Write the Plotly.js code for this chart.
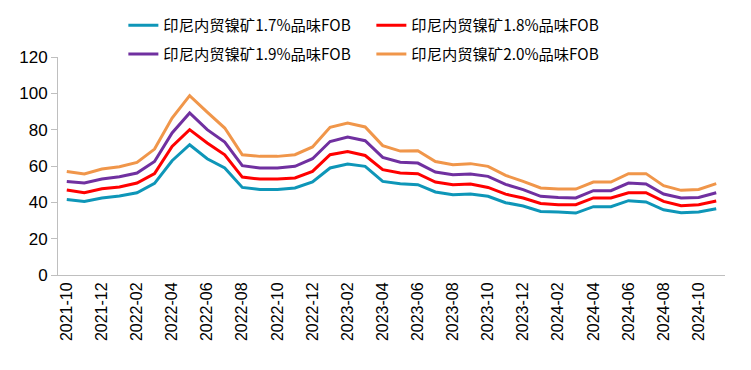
<!DOCTYPE html>
<html>
<head>
<meta charset="utf-8">
<script src="https://cdn.plot.ly/plotly-3.0.1.min.js"></script>
<style>html,body{margin:0;padding:0;background:#fff}#chart{width:751px;height:370px}</style>
</head>
<body>
<div id="chart"></div>
<script>
const months = ["2021-10","2021-11","2021-12","2022-01","2022-02","2022-03","2022-04","2022-05","2022-06","2022-07","2022-08","2022-09","2022-10","2022-11","2022-12","2023-01","2023-02","2023-03","2023-04","2023-05","2023-06","2023-07","2023-08","2023-09","2023-10","2023-11","2023-12","2024-01","2024-02","2024-03","2024-04","2024-05","2024-06","2024-07","2024-08","2024-09","2024-10","2024-11"];
const seriesNames = ["印尼内贸镍矿1.7%品味FOB","印尼内贸镍矿1.8%品味FOB","印尼内贸镍矿1.9%品味FOB","印尼内贸镍矿2.0%品味FOB"];
const grade17 = [41.6,40.5,42.4,43.5,45.3,50.4,62.9,71.7,64.0,58.9,48.2,47.1,47.1,47.9,51.2,58.9,61.1,59.8,51.5,50.2,49.7,45.7,44.2,44.6,43.3,39.8,38.0,35.0,34.7,34.1,37.6,37.6,40.9,40.2,35.9,34.3,34.7,36.5];
const grade18 = [46.8,45.3,47.5,48.4,50.6,55.8,70.8,80.0,72.7,66.2,53.9,52.8,52.8,53.4,57.0,66.2,68.0,65.8,58.0,56.1,55.8,51.2,49.7,50.1,48.2,44.5,42.4,39.4,38.7,38.7,42.4,42.4,45.3,45.3,40.5,38.1,38.7,40.7];
const grade19 = [51.5,50.6,52.8,54.1,56.1,62.5,78.2,89.2,80.0,73.2,60.2,58.9,58.9,59.8,64.0,73.5,76.0,73.9,64.7,62.1,61.6,56.7,55.2,55.6,54.3,49.9,47.0,43.3,42.7,42.4,46.4,46.4,50.6,50.1,44.6,42.4,42.7,45.3];
const grade20 = [57.0,55.6,58.3,59.6,62.0,69.3,86.4,98.7,89.7,80.9,66.2,65.3,65.3,66.2,70.5,81.3,83.7,81.5,71.2,68.2,68.4,62.5,60.7,61.3,59.8,54.8,51.5,47.9,47.3,47.3,51.2,51.2,55.8,55.8,49.2,46.6,47.1,50.3];
const yTicks = [0,20,40,60,80,100,120];

const colors = ["#0E96B8","#FF0000","#7030A0","#F0964A"];
const allSeries = [grade17, grade18, grade19, grade20];
const legends = ["legend","legend","legend2","legend2"];

const idx = months.map((m,i)=>i);
const traces = allSeries.map((s,k)=>({
  type:"scatter", mode:"lines", x: idx, y: s, name: seriesNames[k],
  line:{color:colors[k], width:3}, legend: legends[k], hoverinfo:"skip"
}));

const labelVals = idx.filter(i=>i%2===0);
const boundaryVals = [];
for (let i=0;i<=months.length;i+=2) boundaryVals.push(i-0.5);
if (boundaryVals[boundaryVals.length-1] < months.length-0.5) boundaryVals.push(months.length-0.5);

const legendFont = {family:"Microsoft YaHei, Noto Sans CJK SC, sans-serif", size:15.3, color:"#000"};
const layout = {
  width:751, height:370,
  margin:{l:58, r:26, t:57, b:95, autoexpand:false},
  paper_bgcolor:"#fff", plot_bgcolor:"#fff",
  showlegend:true,
  legend:{orientation:"h", x:0.098, xanchor:"left", y:1.145, yanchor:"middle", font:legendFont, entrywidth:203, entrywidthmode:"pixels", bgcolor:"rgba(0,0,0,0)", itemclick:false},
  legend2:{orientation:"h", x:0.098, xanchor:"left", y:1.014, yanchor:"middle", font:legendFont, entrywidth:203, entrywidthmode:"pixels", bgcolor:"rgba(0,0,0,0)", itemclick:false},
  xaxis:{
    type:"linear", range:[-0.5, months.length-0.5],
    tickmode:"array", tickvals:labelVals, ticktext:labelVals.map(i=>months[i]),
    tickangle:-90, ticks:"", showgrid:false, zeroline:false,
    showline:true, linecolor:"#BFBFBF", linewidth:1,
    tickfont:{family:"Liberation Sans, Arial, sans-serif", size:16, color:"#000"}
  },
  xaxis2:{
    overlaying:"x", anchor:"y", side:"bottom", type:"linear",
    range:[-0.5, months.length-0.5], tickmode:"array", tickvals:boundaryVals,
    showticklabels:false, ticks:"outside", ticklen:6, tickcolor:"#BFBFBF", tickwidth:1,
    showgrid:false, zeroline:false, showline:false
  },
  yaxis:{
    range:[0,120], tickmode:"array", tickvals:yTicks, ticktext:yTicks.map(String),
    ticks:"outside", ticklen:6, tickcolor:"#BFBFBF", showgrid:false, zeroline:false,
    showline:true, linecolor:"#BFBFBF", linewidth:1,
    tickfont:{family:"Liberation Sans, Arial, sans-serif", size:17, color:"#000"}
  }
};
Plotly.newPlot("chart", traces, layout, {displayModeBar:false, staticPlot:true});
</script>
</body>
</html>
